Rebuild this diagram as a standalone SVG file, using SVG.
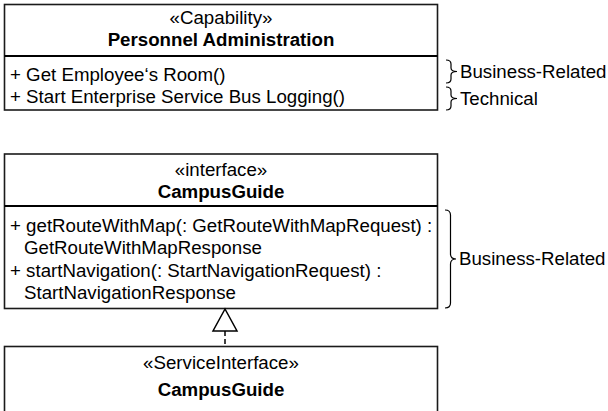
<svg xmlns="http://www.w3.org/2000/svg" width="608" height="411" viewBox="0 0 608 411">
<style>
.box{fill:#fff;stroke:#1a1a1a;stroke-width:1.6}
.sep{stroke:#000;stroke-width:2}
text{font-family:"Liberation Sans",Arial,sans-serif;font-size:18.7px;fill:#000}
.c{text-anchor:middle}
.b{font-weight:bold}
.br{fill:none;stroke:#000;stroke-width:1.2}
</style>
<rect width="608" height="411" fill="#fff"/>
<g id="capability">
<rect class="box" x="4.5" y="4.5" width="433" height="105.5"/>
<line class="sep" x1="4.5" y1="56" x2="437.5" y2="56"/>
<text class="c" x="221" y="24">«Capability»</text>
<text class="c b" x="221" y="46">Personnel Administration</text>
<text x="10" y="81">+ Get Employee‘s Room()</text>
<text x="10" y="103">+ Start Enterprise Service Bus Logging()</text>
</g>
<g id="brace-business-1">
<path class="br" d="M446,60 Q451,60 451,64 L451,68 Q451,71.5 457,71.5 Q451,71.5 451,75 L451,79 Q451,83 446,83"/>
<text x="460" y="78">Business-Related</text>
</g>
<g id="brace-technical">
<path class="br" d="M446,87 Q451,87 451,91 L451,95 Q451,98.5 457,98.5 Q451,98.5 451,102 L451,106 Q451,110 446,110"/>
<text x="460" y="105">Technical</text>
</g>
<g id="interface">
<rect class="box" x="4.5" y="154" width="433" height="154.5"/>
<line class="sep" x1="4.5" y1="206" x2="437.5" y2="206"/>
<text class="c" x="221" y="176">«interface»</text>
<text class="c b" x="221" y="198">CampusGuide</text>
<text x="10" y="232">+ getRouteWithMap(: GetRouteWithMapRequest) :</text>
<text x="24" y="254">GetRouteWithMapResponse</text>
<text x="10" y="277">+ startNavigation(: StartNavigationRequest) :</text>
<text x="24" y="299">StartNavigationResponse</text>
</g>
<g id="brace-business-2">
<path class="br" d="M445,210 Q450.5,210 450.5,215 L450.5,254 Q450.5,259 456,259 Q450.5,259 450.5,264 L450.5,303 Q450.5,308 445,308"/>
<text x="459" y="265">Business-Related</text>
</g>
<g id="serviceinterface">
<rect class="box" x="4.5" y="346.5" width="433" height="70"/>
<text class="c" x="221" y="369">«ServiceInterface»</text>
<text class="c b" x="221" y="396">CampusGuide</text>
</g>
<g id="connectors">
<line x1="225" y1="331" x2="225" y2="346" stroke="#000" stroke-width="1.5" stroke-dasharray="5,3"/>
<polygon points="225,309 213,331 237,331" fill="#fff" stroke="#000" stroke-width="1.5"/>
</g>
</svg>
